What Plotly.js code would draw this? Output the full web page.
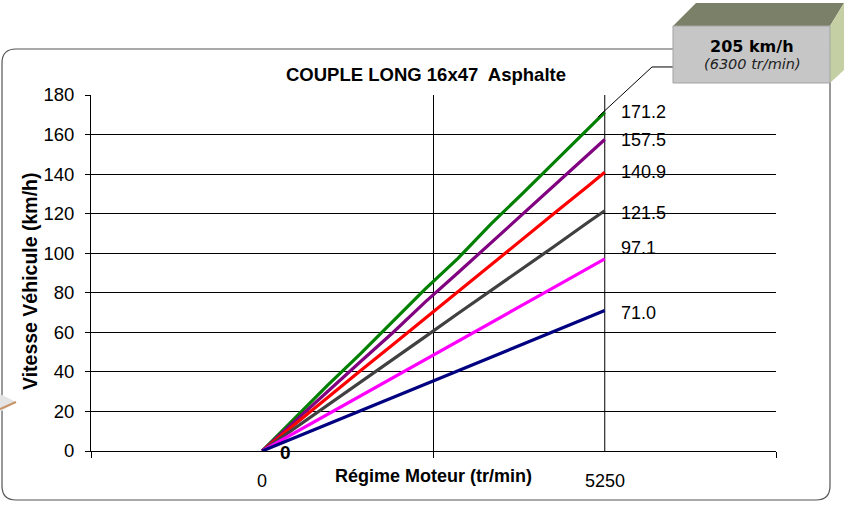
<!DOCTYPE html>
<html>
<head>
<meta charset="utf-8">
<script src="https://cdn.plot.ly/plotly-3.0.1.min.js"></script>
<style>html,body{margin:0;padding:0;background:#fff;}#chart{width:846px;height:507px;}</style>
</head>
<body>
<div id="chart"></div>
<script>
// ---- data ----
const rpm = [0, 500, 1000, 1500, 2000, 2500, 3000, 3500, 4000, 4500, 5000, 5250];
const gear6 = [0, 16.8, 33.2, 49.0, 65.3, 82.0, 97.4, 114.6, 130.5, 146.6, 163.0, 171.2];
const gear5 = [0, 15.0, 30.4, 45.0, 59.8, 75.4, 90.1, 105.0, 120.3, 135.0, 150.2, 157.5];
const gear4 = [0, 13.6, 26.9, 40.4, 53.7, 67.2, 80.6, 94.0, 107.4, 120.8, 134.1, 140.9];
const gear3 = [0, 11.5, 23.2, 34.7, 46.4, 57.8, 69.5, 80.9, 92.6, 104.0, 115.8, 121.5];
const gear2 = [0, 9.3, 18.5, 27.8, 37.0, 46.3, 55.4, 64.7, 74.0, 83.2, 92.4, 97.1];
const gear1 = [0, 6.8, 13.6, 20.3, 27.1, 33.9, 40.6, 47.4, 54.1, 60.9, 67.6, 71.0];
const seriesNames = ['6e rapport', '5e rapport', '4e rapport', '3e rapport', '2e rapport', '1er rapport'];
const seriesValues = [gear6, gear5, gear4, gear3, gear2, gear1];
const xTickVals = [0, 5250];
const xTickText = ['0', '5250'];
const vGridVals = [2625, 5250];
const calloutTitle = '205 km/h';
const calloutSub = '(6300 tr/min)';
const yTitle = 'Vitesse Véhicule (km/h)';

// ---- styles ----
const colors = ['#008000', '#800080', '#FF0000', '#404040', '#FF00FF', '#000080'];
const endShift = [0, 0, 0, -2, 11, -2];
const F = 'Liberation Sans, Arial, sans-serif';
const V = 'DejaVu Sans, Verdana, sans-serif';

// pixel -> paper helpers for decorations
const L = 91, T = 95, W = 685, H = 356;
const X = px => (px - L) / W;
const Y = py => (T + H - py) / H;
const P = pts => pts.map((p, i) => (i ? 'L' : 'M') + X(p[0]).toFixed(4) + ',' + Y(p[1]).toFixed(4)).join(' ');

const traces = seriesValues.map((vals, i) => ({
  x: rpm, y: vals, type: 'scatter', mode: 'lines', name: seriesNames[i],
  line: {color: colors[i], width: 3.2}, showlegend: false, hoverinfo: 'x+y+name'
}));

const shapes = [];
// chart-area rounded border
const r = 14, bx0 = 2, by0 = 49, bx1 = 830, by1 = 500;
shapes.push({type: 'path', xref: 'paper', yref: 'paper', layer: 'below',
  path: 'M' + X(bx0 + r) + ',' + Y(by0) + ' L' + X(bx1) + ',' + Y(by0) +
        ' L' + X(bx1) + ',' + Y(by1 - r) + ' Q' + X(bx1) + ',' + Y(by1) + ' ' + X(bx1 - r) + ',' + Y(by1) +
        ' L' + X(bx0 + r) + ',' + Y(by1) + ' Q' + X(bx0) + ',' + Y(by1) + ' ' + X(bx0) + ',' + Y(by1 - r) +
        ' L' + X(bx0) + ',' + Y(by0 + r) + ' Q' + X(bx0) + ',' + Y(by0) + ' ' + X(bx0 + r) + ',' + Y(by0),
  line: {color: '#555555', width: 1.2}});
// vertical grid lines
vGridVals.forEach(v => shapes.push({type: 'line', xref: 'x', yref: 'paper', x0: v, x1: v, y0: 0, y1: 1,
  layer: 'below', line: {color: '#000', width: 1}}));
// callout connector
shapes.push({type: 'path', xref: 'paper', yref: 'paper', path: P([[598, 117], [652, 67], [673, 67]]),
  line: {color: '#000', width: 1}});
// 3D callout box
shapes.push({type: 'path', xref: 'paper', yref: 'paper', path: P([[673, 26], [696, 3], [844, 3], [830, 26]]) + ' Z',
  fillcolor: '#7b8069', line: {width: 0}});
shapes.push({type: 'path', xref: 'paper', yref: 'paper', path: P([[830, 26], [844, 3], [844, 70], [830, 83]]) + ' Z',
  fillcolor: '#c4cfa4', line: {width: 0}});
shapes.push({type: 'path', xref: 'paper', yref: 'paper', path: P([[673, 26], [830, 26], [830, 83], [673, 83]]) + ' Z',
  fillcolor: '#c6c6c6', line: {color: '#a4a4a4', width: 1}});
// small cut-off arrow at left edge
shapes.push({type: 'path', xref: 'paper', yref: 'paper', path: P([[0, 394], [16, 402], [0, 412]]) + ' Z',
  fillcolor: '#e4e4e4', line: {width: 0}});
shapes.push({type: 'path', xref: 'paper', yref: 'paper', path: P([[0, 409], [16, 402]]),
  line: {color: '#c89366', width: 2}});

const annotations = [];
seriesValues.forEach((vals, i) => {
  const v = vals[vals.length - 1];
  annotations.push({x: rpm[rpm.length - 1], y: v, xref: 'x', yref: 'y', text: v.toFixed(1),
    showarrow: false, xanchor: 'left', yanchor: 'middle', xshift: 14, yshift: endShift[i],
    font: {family: F, size: 18, color: '#000'}});
});
xTickVals.forEach((v, i) => annotations.push({x: v, y: Y(481), xref: 'x', yref: 'paper', text: xTickText[i],
  showarrow: false, xanchor: 'center', yanchor: 'middle', font: {family: F, size: 18, color: '#000'}}));
annotations.push({x: rpm[0], y: gear1[0], xref: 'x', yref: 'y', text: '<b>' + gear1[0] + '</b>', showarrow: false,
  xanchor: 'center', yanchor: 'middle', xshift: 23, yshift: -1, font: {family: F, size: 19, color: '#000'}});
annotations.push({x: X(752), y: Y(46), xref: 'paper', yref: 'paper', text: '<b>' + calloutTitle + '</b>',
  showarrow: false, xanchor: 'center', yanchor: 'middle', font: {family: V, size: 16, color: '#000'}});
annotations.push({x: X(752), y: Y(64), xref: 'paper', yref: 'paper', text: '<i>' + calloutSub + '</i>',
  showarrow: false, xanchor: 'center', yanchor: 'middle', font: {family: V, size: 14.5, color: '#222'}});
annotations.push({x: X(30), y: Y(282), xref: 'paper', yref: 'paper', text: '<b>' + yTitle + '</b>',
  textangle: -90, showarrow: false, xanchor: 'center', yanchor: 'middle',
  font: {family: F, size: 19.5, color: '#000'}});

const layout = {
  width: 846, height: 507,
  margin: {l: L, r: 846 - L - W, t: T, b: 507 - T - H, pad: 0},
  paper_bgcolor: '#fff', plot_bgcolor: '#fff',
  title: {text: '<b>COUPLE LONG 16x47  Asphalte</b>', font: {family: F, size: 18.5, color: '#000'},
    xref: 'paper', x: X(426), xanchor: 'center', yref: 'container', y: 1 - 75 / 507, yanchor: 'middle'},
  xaxis: {range: [-2625, 7875], tick0: -2625, dtick: 5250, ticks: 'outside', ticklen: 6, tickcolor: '#000',
    showticklabels: false, showgrid: false, zeroline: false, showline: true, linecolor: '#000', linewidth: 1,
    title: {text: '<b>Régime Moteur (tr/min)</b>', font: {family: F, size: 18, color: '#000'}, standoff: 12}},
  yaxis: {range: [0, 180], dtick: 20, ticks: 'outside', ticklen: 5, tickcolor: '#000', ticklabelstandoff: 7,
    tickfont: {family: F, size: 18.5, color: '#000'}, showgrid: true, gridcolor: '#000', gridwidth: 1,
    zeroline: false, showline: true, linecolor: '#000', linewidth: 1,
    title: {text: ''}},
  shapes: shapes, annotations: annotations, showlegend: false
};

Plotly.newPlot('chart', traces, layout, {displayModeBar: false, staticPlot: true});
</script>
</body>
</html>
